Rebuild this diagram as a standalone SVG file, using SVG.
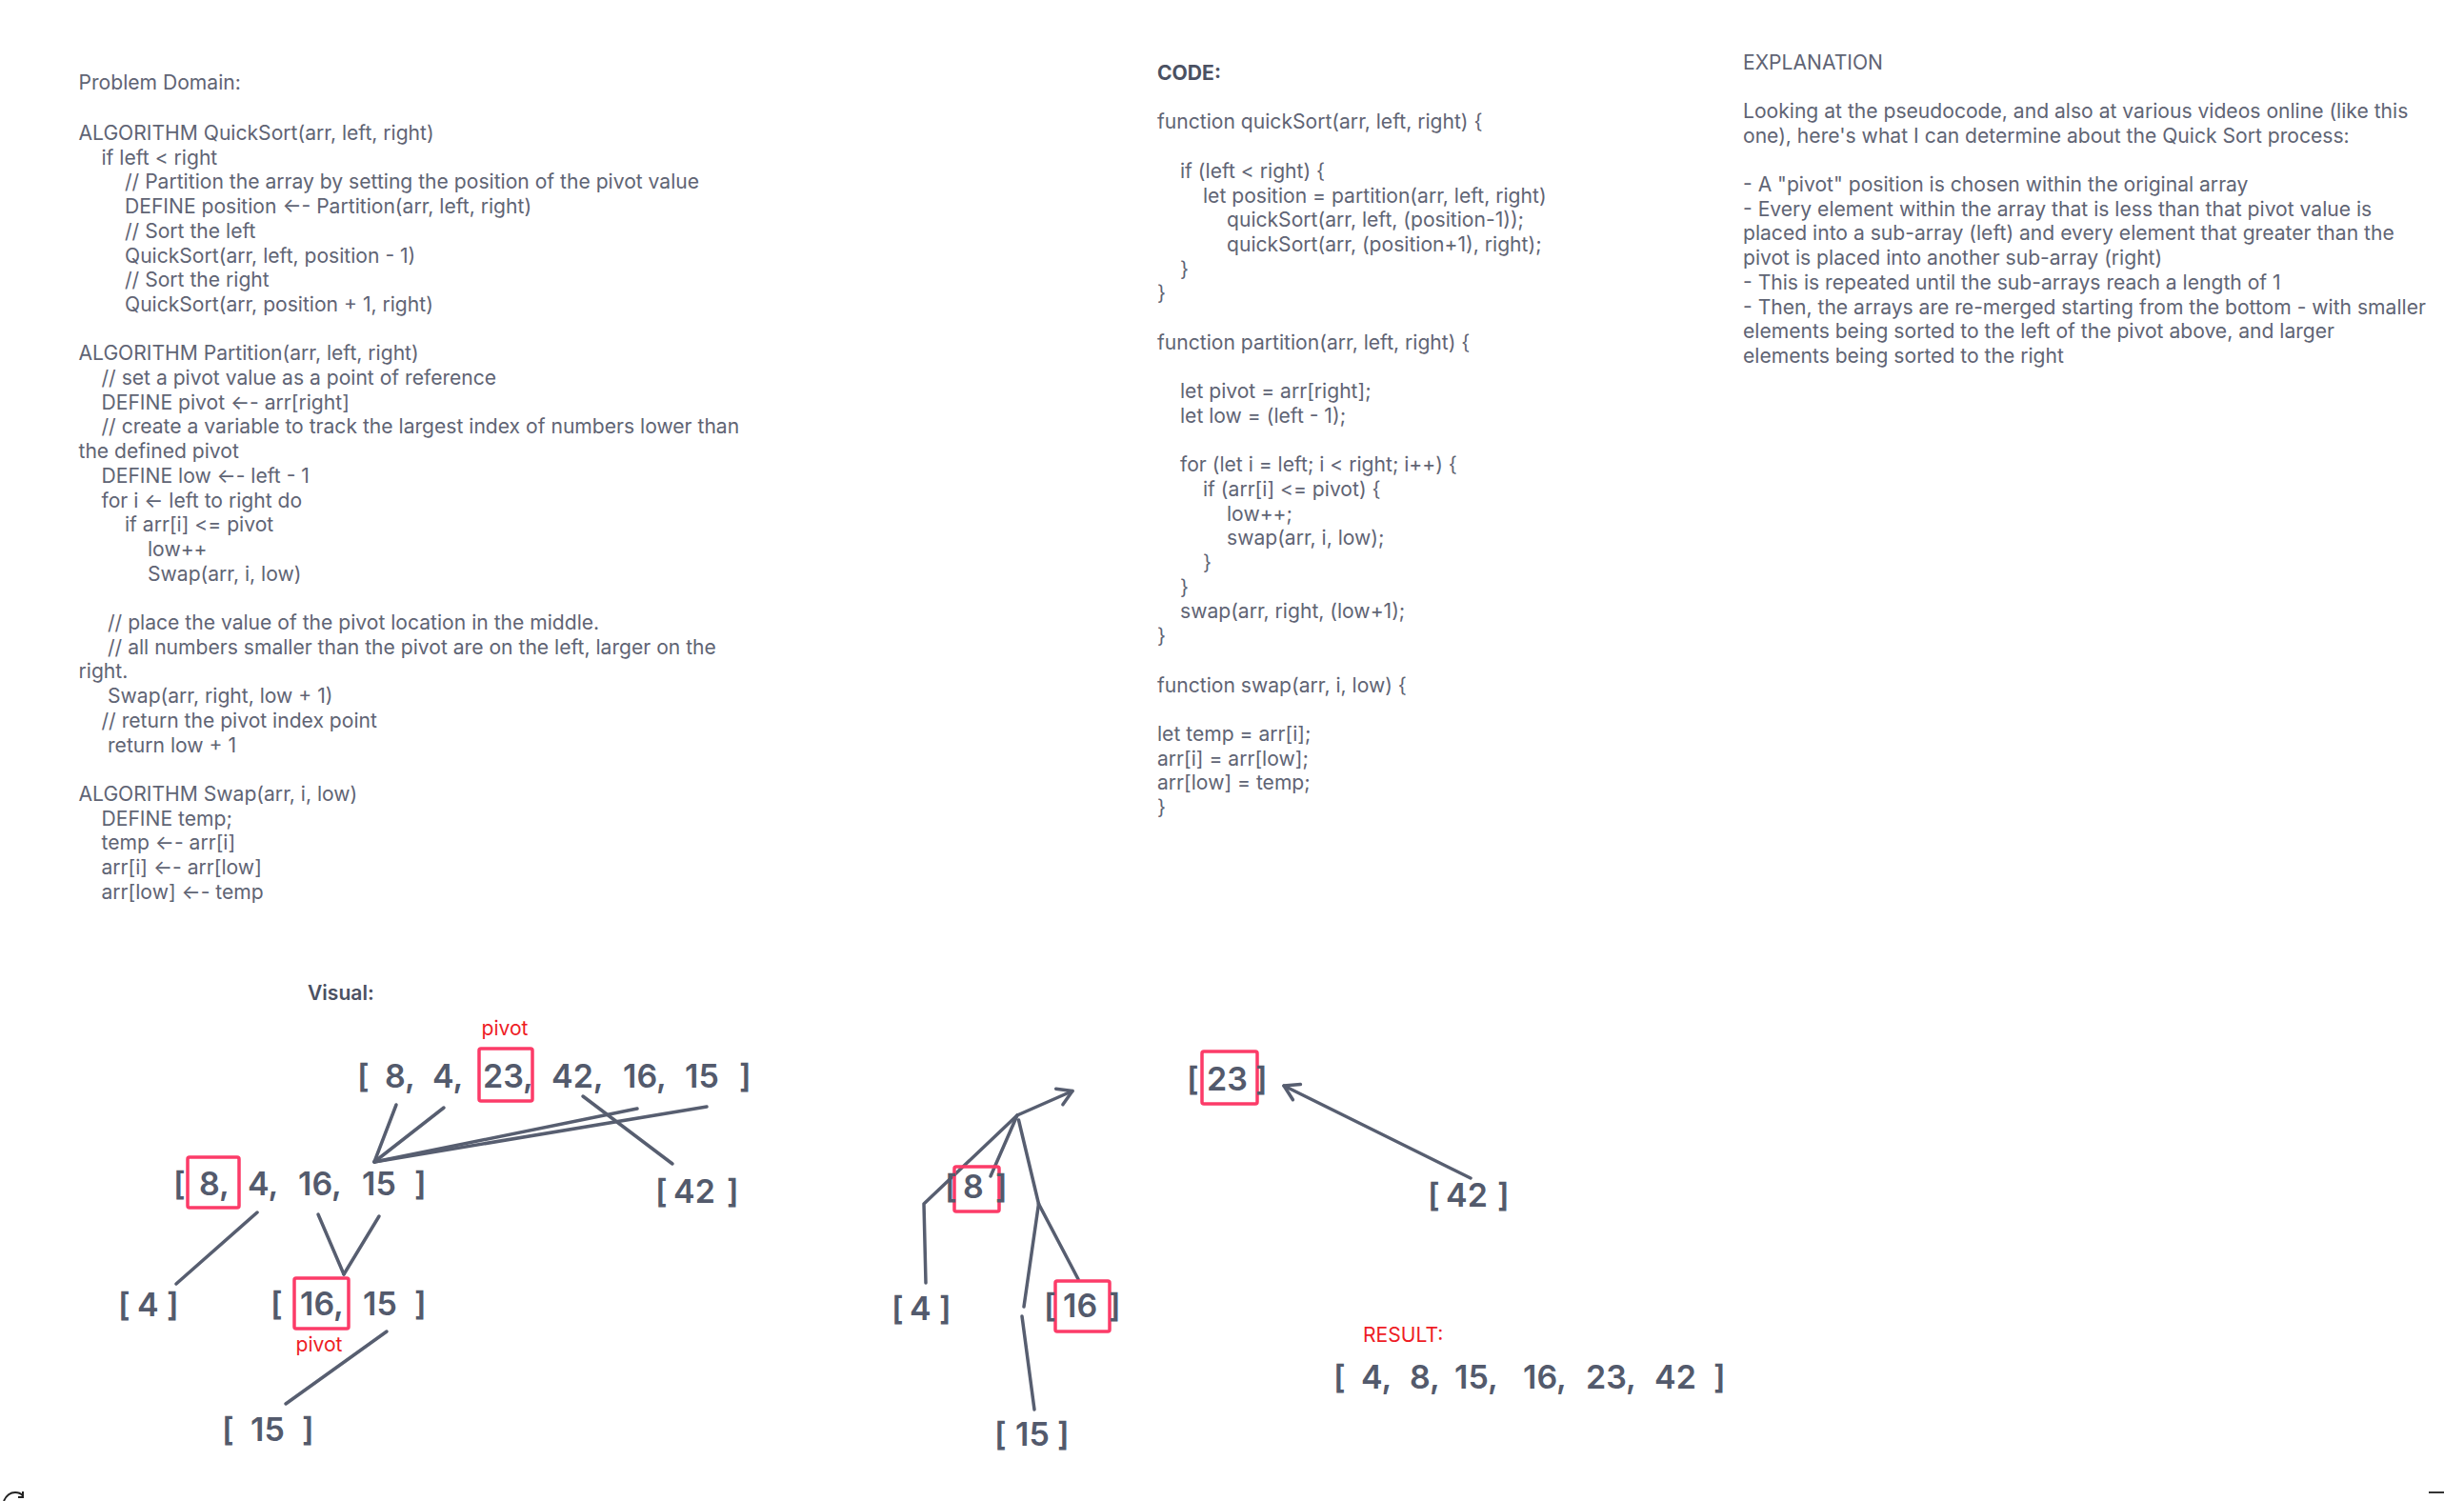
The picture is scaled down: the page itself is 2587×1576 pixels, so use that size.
<svg xmlns="http://www.w3.org/2000/svg" width="2587" height="1576" viewBox="0 0 2587 1576">
<defs>
<style>
.t{font-family:Inter,"Noto Sans","Liberation Sans",sans-serif;font-size:21.1px;fill:#5f6474}
.b{font-weight:700;fill:#4b5162}
.sb{font-weight:600;fill:#4b5162}
.red{font-family:Inter,"Noto Sans","Liberation Sans",sans-serif;font-size:21.1px;fill:#ee1c25}
.arr{font-family:Inter,"Noto Sans","Liberation Sans",sans-serif;font-size:34px;font-weight:600;fill:#535a6c}
.box{fill:none;stroke:#fc3b68;stroke-width:3.5}
.ln{fill:none;stroke:#575e70;stroke-width:3.5;stroke-linecap:round;stroke-linejoin:round}
</style>
<marker id="chev" viewBox="-20 -12 24 24" refX="0" refY="0" markerWidth="24" markerHeight="24" markerUnits="userSpaceOnUse" orient="auto">
<path d="M-15,-9 L0,0 L-15,9" fill="none" stroke="#575e70" stroke-width="3.5" stroke-linecap="round" stroke-linejoin="round"/>
</marker>
</defs>
<rect width="2587" height="1576" fill="#ffffff"/>

<g id="problem-domain">
<text class="t" x="82.5" y="94">Problem Domain:</text>
<text class="t" y="147">
<tspan x="82.5" y="147">ALGORITHM QuickSort(arr, left, right)</tspan>
<tspan x="106.5" dy="25.7">if left &lt; right</tspan>
<tspan x="131" dy="25.7">// Partition the array by setting the position of the pivot value</tspan>
<tspan x="131" dy="25.7">DEFINE position ←- Partition(arr, left, right)</tspan>
<tspan x="131" dy="25.7">// Sort the left</tspan>
<tspan x="131" dy="25.7">QuickSort(arr, left, position - 1)</tspan>
<tspan x="131" dy="25.7">// Sort the right</tspan>
<tspan x="131" dy="25.7">QuickSort(arr, position + 1, right)</tspan>
<tspan x="82.5" dy="51.4">ALGORITHM Partition(arr, left, right)</tspan>
<tspan x="106.5" dy="25.7">// set a pivot value as a point of reference</tspan>
<tspan x="106.5" dy="25.7">DEFINE pivot ←- arr[right]</tspan>
<tspan x="106.5" dy="25.7">// create a variable to track the largest index of numbers lower than</tspan>
<tspan x="82.5" dy="25.7">the defined pivot</tspan>
<tspan x="106.5" dy="25.7">DEFINE low ←- left - 1</tspan>
<tspan x="106.5" dy="25.7">for i ← left to right do</tspan>
<tspan x="131" dy="25.7">if arr[i] &lt;= pivot</tspan>
<tspan x="155" dy="25.7">low++</tspan>
<tspan x="155" dy="25.7">Swap(arr, i, low)</tspan>
<tspan x="113" dy="51.4">// place the value of the pivot location in the middle.</tspan>
<tspan x="113" dy="25.7">// all numbers smaller than the pivot are on the left, larger on the</tspan>
<tspan x="82.5" dy="25.7">right.</tspan>
<tspan x="113" dy="25.7">Swap(arr, right, low + 1)</tspan>
<tspan x="106.5" dy="25.7">// return the pivot index point</tspan>
<tspan x="113" dy="25.7">return low + 1</tspan>
<tspan x="82.5" dy="51.4">ALGORITHM Swap(arr, i, low)</tspan>
<tspan x="106.5" dy="25.7">DEFINE temp;</tspan>
<tspan x="106.5" dy="25.7">temp ←- arr[i]</tspan>
<tspan x="106.5" dy="25.7">arr[i] ←- arr[low]</tspan>
<tspan x="106.5" dy="25.7">arr[low] ←- temp</tspan>
</text>
</g>

<g id="code">
<text class="t b" x="1215" y="84">CODE:</text>
<text class="t" y="135.4">
<tspan x="1215" y="135.4">function quickSort(arr, left, right) {</tspan>
<tspan x="1239" dy="51.4">if (left &lt; right) {</tspan>
<tspan x="1263" dy="25.7">let position = partition(arr, left, right)</tspan>
<tspan x="1288" dy="25.7">quickSort(arr, left, (position-1));</tspan>
<tspan x="1288" dy="25.7">quickSort(arr, (position+1), right);</tspan>
<tspan x="1239" dy="25.7">}</tspan>
<tspan x="1215" dy="25.7">}</tspan>
<tspan x="1215" dy="51.4">function partition(arr, left, right) {</tspan>
<tspan x="1239" dy="51.4">let pivot = arr[right];</tspan>
<tspan x="1239" dy="25.7">let low = (left - 1);</tspan>
<tspan x="1239" dy="51.4">for (let i = left; i &lt; right; i++) {</tspan>
<tspan x="1263" dy="25.7">if (arr[i] &lt;= pivot) {</tspan>
<tspan x="1288" dy="25.7">low++;</tspan>
<tspan x="1288" dy="25.7">swap(arr, i, low);</tspan>
<tspan x="1263" dy="25.7">}</tspan>
<tspan x="1239" dy="25.7">}</tspan>
<tspan x="1239" dy="25.7">swap(arr, right, (low+1);</tspan>
<tspan x="1215" dy="25.7">}</tspan>
<tspan x="1215" dy="51.4">function swap(arr, i, low) {</tspan>
<tspan x="1215" dy="51.4">let temp = arr[i];</tspan>
<tspan x="1215" dy="25.7">arr[i] = arr[low];</tspan>
<tspan x="1215" dy="25.7">arr[low] = temp;</tspan>
<tspan x="1215" dy="25.7">}</tspan>
</text>
</g>

<g id="explanation">
<text class="t" y="72.5">
<tspan x="1830" y="72.5">EXPLANATION</tspan>
<tspan x="1830" dy="51.4">Looking at the pseudocode, and also at various videos online (like this</tspan>
<tspan x="1830" dy="25.7">one), here's what I can determine about the Quick Sort process:</tspan>
<tspan x="1830" dy="51.4">- A "pivot" position is chosen within the original array</tspan>
<tspan x="1830" dy="25.7">- Every element within the array that is less than that pivot value is</tspan>
<tspan x="1830" dy="25.7">placed into a sub-array (left) and every element that greater than the</tspan>
<tspan x="1830" dy="25.7">pivot is placed into another sub-array (right)</tspan>
<tspan x="1830" dy="25.7">- This is repeated until the sub-arrays reach a length of 1</tspan>
<tspan x="1830" dy="25.7">- Then, the arrays are re-merged starting from the bottom - with smaller</tspan>
<tspan x="1830" dy="25.7">elements being sorted to the left of the pivot above, and larger</tspan>
<tspan x="1830" dy="25.7">elements being sorted to the right</tspan>
</text>
</g>

<g id="visual-label">
<text class="t sb" x="323" y="1050">Visual:</text>
</g>

<g id="connectors">
<line class="ln" x1="416" y1="1160" x2="393" y2="1220"/>
<line class="ln" x1="466" y1="1163" x2="393" y2="1220"/>
<line class="ln" x1="669" y1="1164" x2="393" y2="1220"/>
<line class="ln" x1="742" y1="1162" x2="393" y2="1220"/>
<line class="ln" x1="612" y1="1151" x2="706" y2="1222"/>
<line class="ln" x1="270" y1="1273" x2="185" y2="1348"/>
<line class="ln" x1="334" y1="1275" x2="361" y2="1338"/>
<line class="ln" x1="398" y1="1277" x2="361" y2="1338"/>
<line class="ln" x1="406" y1="1398" x2="300" y2="1474"/>
<line class="ln" x1="1068" y1="1171" x2="1126" y2="1145.5" marker-end="url(#chev)"/>
<polyline class="ln" points="1068,1171 970,1264 972,1347"/>
<line class="ln" x1="1068" y1="1171" x2="1040" y2="1235"/>
<line class="ln" x1="1069.5" y1="1176" x2="1090.5" y2="1264"/>
<line class="ln" x1="1090.5" y1="1264" x2="1132" y2="1343"/>
<line class="ln" x1="1090.5" y1="1264" x2="1075" y2="1372"/>
<line class="ln" x1="1073" y1="1382" x2="1086" y2="1480"/>
<line class="ln" x1="1544" y1="1237" x2="1348" y2="1140" marker-end="url(#chev)"/>
</g>

<g id="arr-full">
<text class="red" x="530" y="1087" text-anchor="middle">pivot</text>
<rect class="box" x="503" y="1101" width="56" height="55" rx="2"/>
<text class="arr" y="1142"><tspan x="375">[</tspan><tspan x="404">8,</tspan><tspan x="454">4,</tspan><tspan x="507">23,</tspan><tspan x="579">42,</tspan><tspan x="654">16,</tspan><tspan x="719">15</tspan><tspan x="776">]</tspan></text>
</g>

<g id="arr-left">
<rect class="box" x="197" y="1215" width="54" height="53" rx="2"/>
<text class="arr" y="1255"><tspan x="182">[</tspan><tspan x="209">8,</tspan><tspan x="260">4,</tspan><tspan x="313">16,</tspan><tspan x="380">15</tspan><tspan x="435">]</tspan></text>
</g>

<g id="arr-42-left">
<text class="arr" y="1263"><tspan x="688">[</tspan><tspan x="707">42</tspan><tspan x="763">]</tspan></text>
</g>

<g id="arr-4-left">
<text class="arr" y="1382"><tspan x="124">[</tspan><tspan x="144">4</tspan><tspan x="175">]</tspan></text>
</g>

<g id="arr-16-15">
<rect class="box" x="309" y="1342" width="57" height="53" rx="2"/>
<text class="arr" y="1381"><tspan x="284">[</tspan><tspan x="315">16,</tspan><tspan x="381">15</tspan><tspan x="435">]</tspan></text>
<text class="red" x="335" y="1419" text-anchor="middle">pivot</text>
</g>

<g id="arr-15-left">
<text class="arr" y="1513"><tspan x="233">[</tspan><tspan x="263">15</tspan><tspan x="317">]</tspan></text>
</g>

<g id="arr-23">
<rect class="box" x="1262" y="1104" width="58" height="55" rx="2"/>
<text class="arr" y="1145"><tspan x="1246">[</tspan><tspan x="1267">23</tspan><tspan x="1318">]</tspan></text>
</g>

<g id="arr-42-right">
<text class="arr" y="1267"><tspan x="1499">[</tspan><tspan x="1518">42</tspan><tspan x="1572">]</tspan></text>
</g>

<g id="arr-8">
<rect class="box" x="1002" y="1225" width="47" height="47" rx="2"/>
<text class="arr" y="1258"><tspan x="992">[</tspan><tspan x="1011">8</tspan><tspan x="1045">]</tspan></text>
</g>

<g id="arr-4-mid">
<text class="arr" y="1386"><tspan x="936">[</tspan><tspan x="955">4</tspan><tspan x="986">]</tspan></text>
</g>

<g id="arr-16">
<rect class="box" x="1108" y="1345" width="57" height="53" rx="2"/>
<text class="arr" y="1383"><tspan x="1096">[</tspan><tspan x="1116">16</tspan><tspan x="1164">]</tspan></text>
</g>

<g id="arr-15-mid">
<text class="arr" y="1518"><tspan x="1044">[</tspan><tspan x="1066">15</tspan><tspan x="1110">]</tspan></text>
</g>

<g id="result">
<text class="red" x="1431" y="1409">RESULT:</text>
<text class="arr" y="1458"><tspan x="1400">[</tspan><tspan x="1429">4,</tspan><tspan x="1480">8,</tspan><tspan x="1527">15,</tspan><tspan x="1599">16,</tspan><tspan x="1665">23,</tspan><tspan x="1737">42</tspan><tspan x="1799">]</tspan></text>
</g>

<path d="M4,1576 Q8,1567 16,1567 Q21,1567 23.5,1570 M24,1566 L24,1572 L19,1572" fill="none" stroke="#222222" stroke-width="2"/>
<line x1="2550" y1="1567" x2="2566" y2="1567" stroke="#333333" stroke-width="2"/>
</svg>
